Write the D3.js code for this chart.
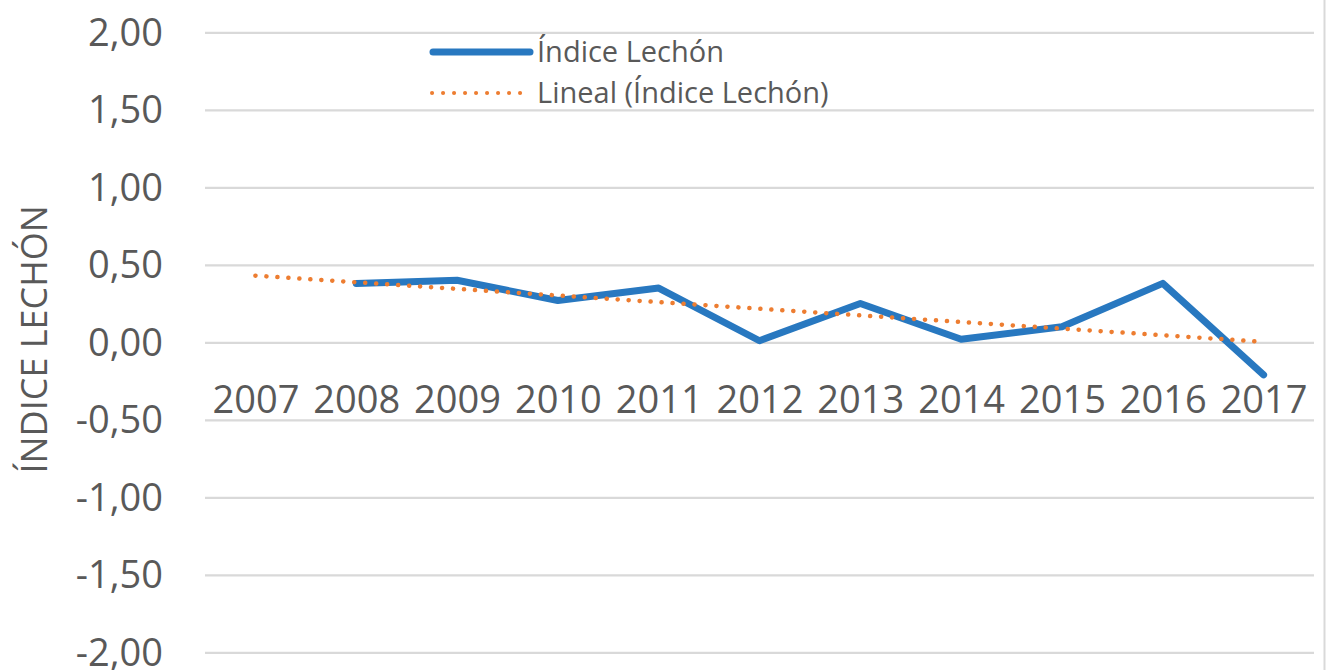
<!DOCTYPE html>
<html>
<head>
<meta charset="utf-8">
<script src="https://cdn.jsdelivr.net/npm/d3@7"></script>
<style>
  html, body { margin: 0; padding: 0; background: #fff; }
  svg { display: block; }
  text { font-family: "Open Sans", "Noto Sans", sans-serif; fill: #595959; }
</style>
</head>
<body>
<svg id="chart" width="1326" height="670"></svg>
<script>
// Años del índice
const years = ["2007", "2008", "2009", "2010", "2011", "2012", "2013", "2014", "2015", "2016", "2017"];
// Índice Lechón (2007 sin dato)
const indice = [null, 0.38, 0.40, 0.27, 0.35, 0.01, 0.25, 0.02, 0.10, 0.38, -0.21];
// Marcas del eje vertical
const yTicks = [-2, -1.5, -1, -0.5, 0, 0.5, 1, 1.5, 2];

const seriesName = "Índice Lechón";
const trendName = "Lineal (Índice Lechón)";
const axisTitle = "ÍNDICE LECHÓN";

const W = 1326, H = 670;
const plot = { left: 205, right: 1314, top: 32.3, bottom: 652.3 };

const svg = d3.select("#chart");

const x = d3.scalePoint().domain(years).range([plot.left, plot.right]).padding(0.5);
const y = d3.scaleLinear().domain([-2, 2]).range([plot.bottom, plot.top]);

// Borde derecho del área del gráfico
svg.append("line")
  .attr("x1", W - 1.5).attr("x2", W - 1.5).attr("y1", 0).attr("y2", H)
  .attr("stroke", "#d9d9d9").attr("stroke-width", 2);

// Formato con coma decimal y guion simple
const fmt = d => d3.format(".2f")(Math.abs(d)).replace(".", ",").replace(/^/, d < 0 ? "-" : "");

// Líneas de cuadrícula y etiquetas del eje Y
const yAxis = d3.axisLeft(y)
  .tickValues(yTicks)
  .tickSize(-(plot.right - plot.left))
  .tickPadding(42)
  .tickFormat(fmt);

const gy = svg.append("g")
  .attr("transform", `translate(${plot.left},0)`)
  .call(yAxis);
gy.select(".domain").remove();
gy.selectAll(".tick line").attr("stroke", "#d9d9d9").attr("stroke-width", 2.2);
gy.selectAll(".tick text")
  .attr("x", 163 - plot.left)
  .attr("dy", "0.34em")
  .attr("text-anchor", "end")
  .style("font-size", "38px")
  .style("fill", "#595959");

// Etiquetas de años junto al eje en cero
const xAxis = d3.axisBottom(x).tickSize(0).tickPadding(0);
const gx = svg.append("g")
  .attr("transform", `translate(0,${y(0)})`)
  .call(xAxis);
gx.select(".domain").remove();
gx.selectAll(".tick text")
  .attr("y", 0)
  .attr("dy", 71)
  .style("font-size", "38px")
  .style("fill", "#595959");

// Título del eje Y
svg.append("text")
  .attr("transform", `translate(47,${(plot.top + plot.bottom) / 2 - 3}) rotate(-90)`)
  .attr("text-anchor", "middle")
  .style("font-size", "36px")
  .text(axisTitle);

// Línea de tendencia lineal (mínimos cuadrados sobre los años con dato)
const pts = indice.map((v, i) => ({ i: i + 1, v })).filter(p => p.v !== null);
const mx = d3.mean(pts, p => p.i), my = d3.mean(pts, p => p.v);
const slope = d3.sum(pts, p => (p.i - mx) * (p.v - my)) / d3.sum(pts, p => (p.i - mx) ** 2);
const intercept = my - slope * mx;
const trend = years.map((yr, k) => ({ yr, v: intercept + slope * (k + 1) }));

const line = d3.line()
  .defined(d => d.v !== null)
  .x(d => x(d.yr))
  .y(d => y(d.v));

const seriesData = years.map((yr, k) => ({ yr, v: indice[k] }));

svg.append("path")
  .datum(seriesData)
  .attr("d", line)
  .attr("fill", "none")
  .attr("stroke", "#2878c0")
  .attr("stroke-width", 7)
  .attr("stroke-linejoin", "round")
  .attr("stroke-linecap", "round");

svg.append("path")
  .datum([trend[0], trend[trend.length - 1]])
  .attr("d", line)
  .attr("fill", "none")
  .attr("stroke", "#ed7d31")
  .attr("stroke-width", 4.5)
  .attr("stroke-linecap", "round")
  .attr("stroke-dasharray", "0.1 10.9");

// Leyenda
const lg = svg.append("g");
lg.append("line")
  .attr("x1", 433).attr("x2", 530).attr("y1", 52).attr("y2", 52)
  .attr("stroke", "#2878c0").attr("stroke-width", 7).attr("stroke-linecap", "round");
lg.append("text")
  .attr("x", 537).attr("y", 52).attr("dy", "0.36em")
  .style("font-size", "29px")
  .text(seriesName);
lg.append("line")
  .attr("x1", 432).attr("x2", 522).attr("y1", 93).attr("y2", 93)
  .attr("stroke", "#ed7d31").attr("stroke-width", 4).attr("stroke-linecap", "round")
  .attr("stroke-dasharray", "0.1 10.9");
lg.append("text")
  .attr("x", 537).attr("y", 93).attr("dy", "0.36em")
  .style("font-size", "29px")
  .text(trendName);
</script>
</body>
</html>
